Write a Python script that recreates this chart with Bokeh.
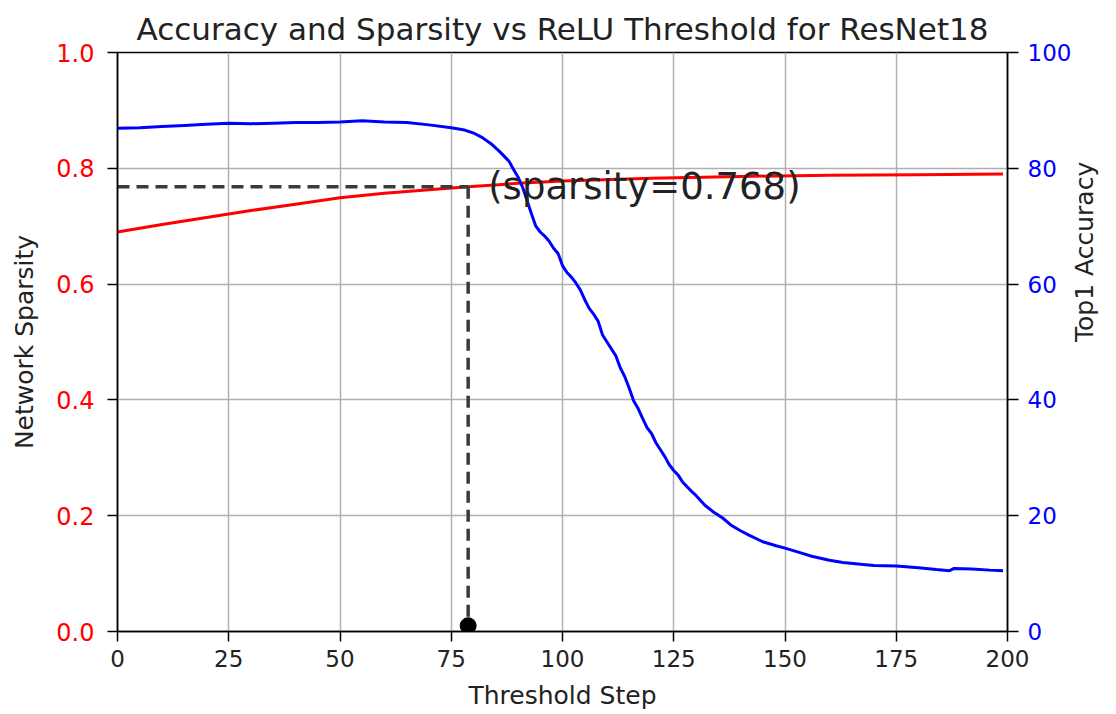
import math
from bokeh.plotting import figure
from bokeh.models import Range1d, LinearAxis, FixedTicker, CustomJSTickFormatter, Title
from bokeh.core.properties import value
from bokeh.embed import file_html
from bokeh.resources import INLINE

# ---- data ----
acc_step = [0, 5, 10, 15, 20, 25, 30, 35, 40, 45, 50, 55, 60, 65, 70, 75, 78, 80, 82, 84, 86,
            88, 89, 90, 91, 92, 93, 94, 95, 96, 97, 98, 99, 100, 101, 102, 103, 104, 105, 106,
            107, 108, 109, 110, 111, 112, 113, 114, 115, 116, 117, 118, 119, 120, 121, 122, 123,
            124, 125, 126, 127, 128, 129, 130, 132, 134, 136, 138, 140, 142, 145, 148, 150, 153,
            156, 160, 163, 167, 170, 175, 180, 184, 187, 188, 192, 196, 199]
accuracy = [86.9, 87.0, 87.2, 87.4, 87.6, 87.8, 87.7, 87.8, 87.9, 87.9, 88.0, 88.2, 88.0, 87.9,
            87.5, 87.0, 86.6, 86.1, 85.3, 84.2, 82.8, 81.2, 79.8, 78.5, 76.8, 74.5, 72.2, 70.0,
            69.0, 68.3, 67.4, 66.2, 65.3, 63.2, 62.0, 61.2, 60.2, 59.0, 57.3, 55.8, 54.8, 53.6,
            51.2, 50.0, 48.8, 47.6, 45.5, 44.0, 42.0, 39.8, 38.5, 36.8, 35.2, 34.2, 32.6, 31.4,
            30.2, 28.8, 27.8, 27.0, 25.8, 25.0, 24.2, 23.5, 21.8, 20.6, 19.6, 18.3, 17.4, 16.6,
            15.5, 14.8, 14.4, 13.7, 13.0, 12.3, 11.9, 11.6, 11.4, 11.3, 11.0, 10.7, 10.5, 10.9,
            10.8, 10.6, 10.5]

sp_step = [0, 10, 20, 30, 40, 50, 60, 70, 78.8, 90, 100, 120, 140, 160, 180, 199]
sparsity = [0.690, 0.703, 0.715, 0.727, 0.738, 0.749, 0.757, 0.763, 0.768, 0.774, 0.778,
            0.783, 0.786, 0.788, 0.789, 0.790]

chosen_step = 78.8
chosen_sparsity = 0.768
annotation = "(sparsity=0.768)"

x_ticks = [0, 25, 50, 75, 100, 125, 150, 175, 200]
left_ticks = [0.0, 0.2, 0.4, 0.6, 0.8, 1.0]
right_ticks = [0, 20, 40, 60, 80, 100]

FONT = "DejaVu Sans"

p = figure(width=1116, height=714, output_backend="svg", toolbar_location=None,
           x_range=Range1d(0, 200), y_range=Range1d(0, 1),
           min_border_left=117, min_border_right=108, min_border_top=52, min_border_bottom=83,
           title="Accuracy and Sparsity vs ReLU Threshold for ResNet18")
p.extra_y_ranges = {"acc": Range1d(0, 100)}

p.title.align = "center"
p.title.vertical_align = "top"
p.title.text_font = FONT
p.title.text_font_size = "31px"
p.title.text_font_style = "normal"
p.title.text_color = "#222222"
p.title.text_line_height = 1.0
p.title.standoff = 8

p.outline_line_color = "black"
p.outline_line_width = 1.5
p.outline_line_alpha = 1.0

p.xgrid.ticker = FixedTicker(ticks=x_ticks)
p.ygrid.ticker = FixedTicker(ticks=left_ticks)
for g in (p.xgrid, p.ygrid):
    g.grid_line_color = "#b0b0b0"
    g.grid_line_width = 1.5

def style_axis(ax, color, tick_out, standoff, size="23px"):
    ax.axis_line_color = "black"
    ax.axis_line_width = 1.5
    ax.major_tick_line_color = "black"
    ax.major_tick_line_width = 1.5
    ax.major_tick_out = tick_out
    ax.major_tick_in = 0
    ax.minor_tick_line_color = None
    ax.major_label_text_font = FONT
    ax.major_label_text_font_size = size
    ax.major_label_text_color = color
    ax.axis_label_text_font = FONT
    ax.axis_label_text_font_size = "25px"
    ax.axis_label_text_font_style = "normal"
    ax.axis_label_text_color = "#222222"
    ax.major_label_standoff = standoff

xa = p.xaxis[0]
xa.ticker = FixedTicker(ticks=x_ticks)
xa.axis_label = "Threshold Step"
style_axis(xa, "#222222", 10, 8)
xa.axis_label_standoff = 11

ya = p.yaxis[0]
ya.ticker = FixedTicker(ticks=left_ticks)
ya.axis_label = "Network Sparsity"
style_axis(ya, "red", 10, 13, "24px")
ya.formatter = CustomJSTickFormatter(code="return tick.toFixed(1);")
ya.axis_label_standoff = 14

# right axis with the accuracy ticks
ra = LinearAxis(y_range_name="acc", ticker=FixedTicker(ticks=right_ticks))
style_axis(ra, "blue", 11, 9)
p.add_layout(ra, "right")

# right axis title, reading bottom-to-top. A rotated Bokeh axis label starts at the
# centre of its axis bounds, so a tick-less helper axis with lower bounds carries it.
if "axis_label_orientation" in LinearAxis.properties():
    lab = LinearAxis(ticker=FixedTicker(ticks=[]), axis_label="Top1 Accuracy",
                     bounds=(0, 0.688))
    style_axis(lab, "blue", 0, 0)
    lab.axis_line_color = None
    lab.major_tick_line_color = None
    lab.major_label_text_font_size = "1px"
    lab.axis_label_orientation = math.pi / 2
    lab.axis_label_standoff = 10
    p.add_layout(lab, "right")
else:
    p.add_layout(Title(text="Top1 Accuracy", align="center", text_font=FONT,
                       text_font_size="25px", text_font_style="normal",
                       text_color="#222222"), "right")

# curves
p.line(sp_step, sparsity, line_color="red", line_width=3)
p.line(acc_step, accuracy, line_color="blue", line_width=3, y_range_name="acc")

# dashed guides
p.line([0, chosen_step], [chosen_sparsity, chosen_sparsity], line_color="#3a3a3a",
       line_width=3.5, line_dash="12 7")
p.line([chosen_step, chosen_step], [chosen_sparsity, 0], line_color="#3a3a3a",
       line_width=3.5, line_dash="12 7")
p.scatter([chosen_step], [0.01], size=16, color="black")

p.text([chosen_step + 4.5], [chosen_sparsity], text=[annotation], text_font=value(FONT),
       text_font_size="37px", text_color="#222222", text_baseline="middle", text_align="left")

open("out.html", "w").write(file_html(p, INLINE))
